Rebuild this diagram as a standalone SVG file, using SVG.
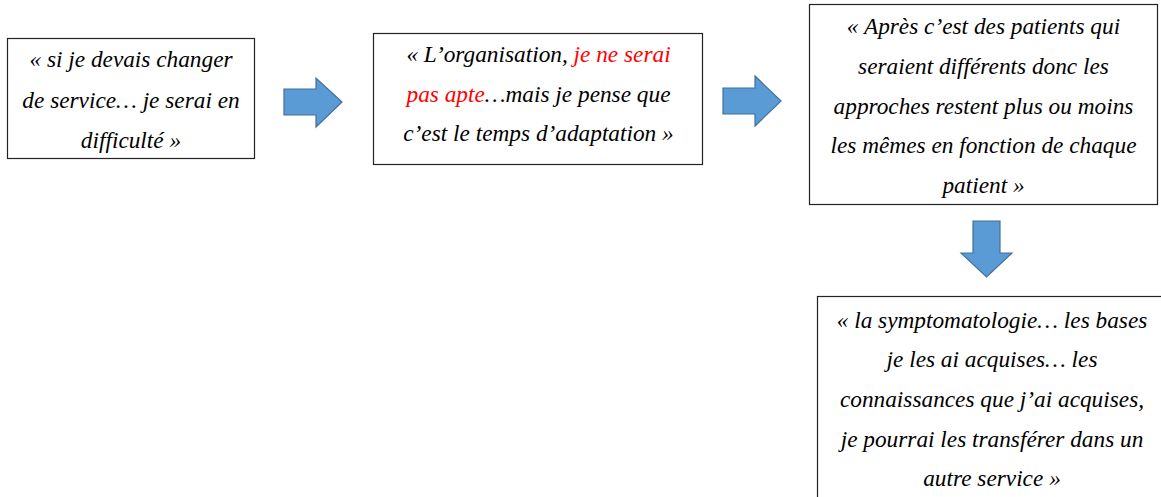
<svg xmlns="http://www.w3.org/2000/svg" width="1161" height="497" viewBox="0 0 1161 497">
<style>
.box{fill:#fff;stroke:#222;stroke-width:1.2}
.arr{fill:#5B9BD5;stroke:#41719C;stroke-width:1.2}
text{font-family:"Liberation Serif","Times New Roman",serif;font-style:italic;font-size:23.3px;fill:#000;text-anchor:middle}
.red{fill:#FF0000}
</style>
<rect width="1161" height="497" fill="#fff"/>
<g id="connectors">
<path class="arr" d="M284,89 H316 V78 L342,102 L316,127 V115 H284 Z"/>
<path class="arr" d="M723,88 H755 V76 L781,101 L755,126 V114 H723 Z"/>
<path class="arr" d="M973,221 H1000 V253 H1012 L986.5,277 L961,253 H973 Z"/>
</g>
<g id="node1">
<rect class="box" x="7.5" y="38.5" width="247" height="120"/>
<text x="131" y="67">« si je devais changer</text>
<text x="131" y="108">de service… je serai en</text>
<text x="131" y="148">difficulté »</text>
</g>
<g id="node2">
<rect class="box" x="373.5" y="33.5" width="329" height="131"/>
<text x="538.5" y="62">« L’organisation, <tspan class="red">je ne serai</tspan></text>
<text x="538.5" y="102"><tspan class="red">pas apte</tspan>…mais je pense que</text>
<text x="538.5" y="141">c’est le temps d’adaptation »</text>
</g>
<g id="node3">
<rect class="box" x="809.5" y="4.5" width="348" height="200"/>
<text x="983.5" y="34">« Après c’est des patients qui</text>
<text x="983.5" y="74">seraient différents donc les</text>
<text x="983.5" y="114">approches restent plus ou moins</text>
<text x="983.5" y="153">les mêmes en fonction de chaque</text>
<text x="983.5" y="193">patient »</text>
</g>
<g id="node4">
<rect class="box" x="817.5" y="296.5" width="350" height="220"/>
<text x="992" y="328">« la symptomatologie… les bases</text>
<text x="992" y="367">je les ai acquises… les</text>
<text x="992" y="407">connaissances que j’ai acquises,</text>
<text x="992" y="447">je pourrai les transférer dans un</text>
<text x="992" y="486">autre service »</text>
</g>
</svg>
